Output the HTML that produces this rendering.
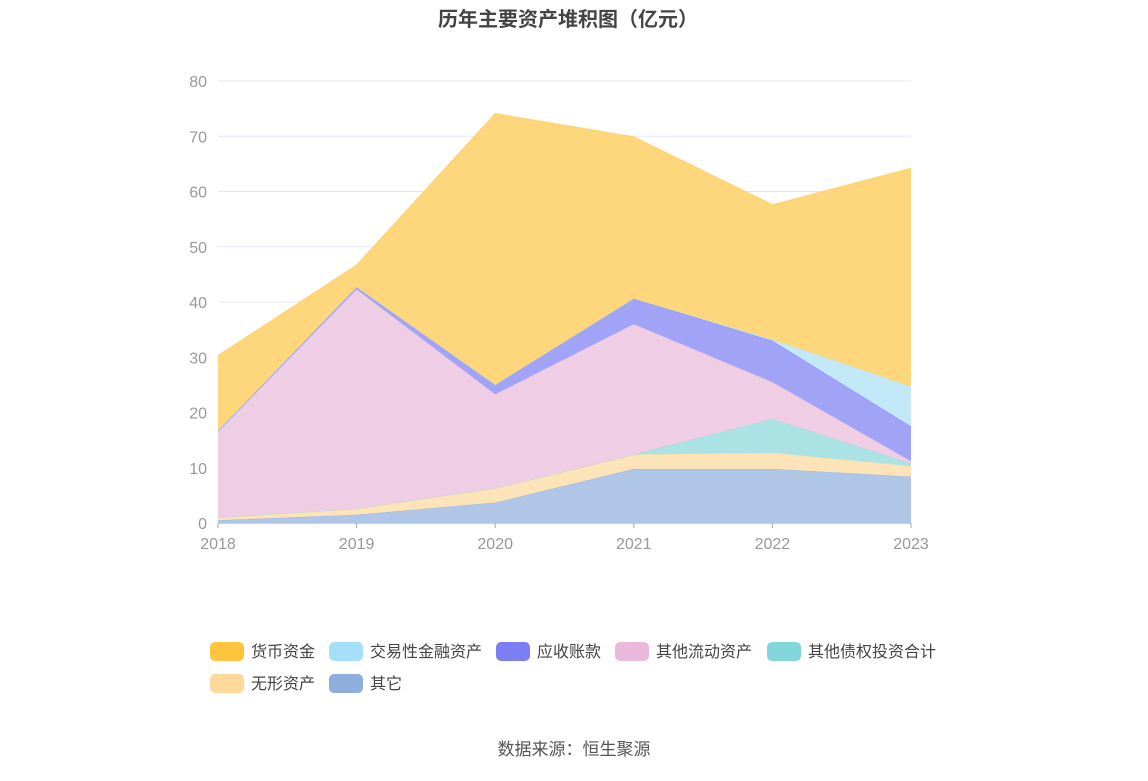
<!DOCTYPE html>
<html><head><meta charset="utf-8">
<style>
body{margin:0;background:#fff;font-family:"Liberation Sans","Noto Sans CJK SC",sans-serif;}
svg text{font-family:"Liberation Sans","Noto Sans CJK SC",sans-serif;}
</style></head><body>
<svg id="c" width="1148" height="776">
<text x="568" y="26" text-anchor="middle" font-size="20" font-weight="bold" fill="#444">历年主要资产堆积图（亿元）</text>
<g id="grid"></g><g id="areas"></g><g id="axes"></g><g id="legend"></g>
<text x="574" y="755" text-anchor="middle" font-size="17" fill="#555">数据来源：恒生聚源</text>
</svg>
<script>
const categories=["2018","2019","2020","2021","2022","2023"];
const yTicks=[0,10,20,30,40,50,60,70,80];
const seriesNames=["其它","无形资产","其他债权投资合计","其他流动资产","应收账款","交易性金融资产","货币资金"];
const s_other=[0.5,1.5,3.7,9.8,9.8,8.4];
const s_intangible=[0.5,1.1,2.6,2.6,2.9,1.9];
const s_debtInv=[0,0,0,0,6.1,0.5];
const s_otherCurrent=[15.5,39.7,17.0,23.6,6.7,0.4];
const s_receivable=[0.2,0.4,1.7,4.6,7.5,6.3];
const s_trading=[0,0,0,0,0.2,7.2];
const s_cash=[13.6,4.0,49.1,29.3,24.4,39.5];
const seriesVals=[s_other,s_intangible,s_debtInv,s_otherCurrent,s_receivable,s_trading,s_cash];
const colors=["#8eaedc","#ffd99a","#83d6d9","#eab9db","#7b7ff3","#a6dff9","#ffc53d"];
const fills=["#b0c6e6","#fde3b8","#abe3e4","#efcde5","#a0a3f6","#c3e9f9","#fed67c"];
const ns="http://www.w3.org/2000/svg";
const X0=218,X1=911,Y0=523,Y80=81;
const xs=i=>X0+(X1-X0)*i/(categories.length-1);
const ys=v=>Y0-(Y0-Y80)*v/80;
function mk(t,a,p){const e=document.createElementNS(ns,t);for(const k in a)e.setAttribute(k,a[k]);p.appendChild(e);return e;}
const grid=document.getElementById('grid'),axes=document.getElementById('axes'),areas=document.getElementById('areas'),leg=document.getElementById('legend');
yTicks.forEach(t=>{
 const l=mk('line',{x1:X0,x2:X1,y1:ys(t),y2:ys(t),stroke:t==0?'#9aa':'#e3e7ef'},grid);
 
 
 const tx=mk('text',{x:207,y:ys(t)+6,'text-anchor':'end','font-size':16,fill:'#999'},axes);tx.textContent=t;
 
 
});
categories.forEach((c,i)=>{
 const tk=mk('line',{x1:xs(i),x2:xs(i),y1:Y0,y2:Y0+5,stroke:'#9aa'},axes);
 
 
 const tx=mk('text',{x:xs(i),y:549,'text-anchor':'middle','font-size':16,fill:'#999'},axes);tx.textContent=c;
 
 
});
let base=categories.map(()=>0);
seriesVals.forEach((vals,k)=>{
 const top=base.map((b,i)=>b+vals[i]);
 let d='M'+top.map((v,i)=>xs(i)+','+ys(v)).join('L');
 for(let i=categories.length-1;i>=0;i--)d+='L'+xs(i)+','+ys(base[i]);
 d+='Z';
 const p=mk('path',{d:d,fill:fills[k],stroke:'none'},areas);
 
 
 const ln=mk('polyline',{points:top.map((v,i)=>xs(i)+','+ys(v)).join(' '),fill:'none',stroke:colors[k],'stroke-width':1,opacity:0.6},areas);
 
 
 base=top;
});
const legOrder=[6,5,4,3,2,1,0];
const legPos=[[210,651],[329,651],[496,651],[615,651],[767,651],[210,683],[329,683]];
legOrder.forEach((k,j)=>{
 const [x,y]=legPos[j];
 const g=mk('g',{},leg);
 
 
 mk('rect',{x:x,y:y-9,width:34,height:19,rx:5,fill:colors[k]},g);
 const t=mk('text',{x:x+41,y:y+6,'font-size':16,fill:'#444'},g);t.textContent=seriesNames[k];
});
</script>
</body></html>
